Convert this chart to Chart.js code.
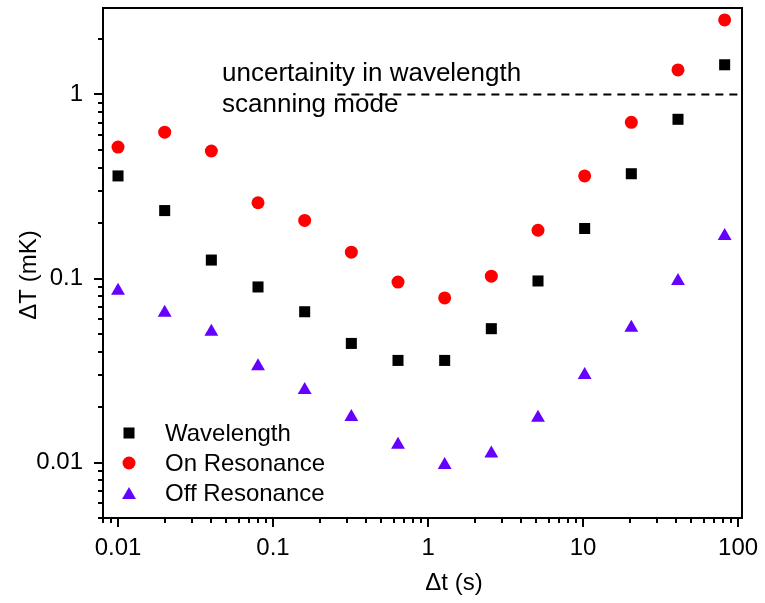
<!DOCTYPE html>
<html>
<head>
<meta charset="utf-8">
<script src="https://cdn.jsdelivr.net/npm/chart.js@4"></script>
<style>
  html, body { margin: 0; padding: 0; background: #fff; }
  #wrap { width: 765px; height: 603px; }
</style>
</head>
<body>
<div id="wrap"><canvas id="chart"></canvas></div>
<script>
// integration times (s)
const dt = [0.01, 0.02, 0.04, 0.08, 0.16, 0.32, 0.64, 1.28, 2.56, 5.12, 10.24, 20.48, 40.96, 81.92];

// Allan deviation, mK
const wavelength = [0.361, 0.234, 0.126, 0.090, 0.066, 0.0444, 0.0359, 0.0359, 0.0534, 0.097, 0.187, 0.371, 0.733, 1.45];
const onResonance = [0.518, 0.624, 0.493, 0.258, 0.207, 0.139, 0.0957, 0.0785, 0.103, 0.183, 0.361, 0.706, 1.36, 2.54];
const offResonance = [0.0858, 0.0652, 0.0514, 0.0334, 0.0248, 0.0177, 0.0125, 0.0097, 0.0112, 0.0175, 0.0299, 0.0541, 0.0969, 0.170];

// dashed limit line
const limitX = [0.26, 106];
const limitY = [1, 1];

const xTicks = [0.01, 0.1, 1, 10, 100];
const xTickLabels = ["0.01", "0.1", "1", "10", "100"];
const yTicks = [0.01, 0.1, 1];
const yTickLabels = ["0.01", "0.1", "1"];

const seriesNames = ["Wavelength", "On Resonance", "Off Resonance"];
const FONT = "'Liberation Sans', Arial, sans-serif";

function pts(xs, ys) {
  return xs.map((x, i) => ({ x: x, y: ys[i] }));
}

// minor + major tick marks, frame, titles, note text, legend
const decor = {
  id: "decor",
  afterDraw(chart) {
    const ctx = chart.ctx;
    const a = chart.chartArea;
    const xs = chart.scales.x, ys = chart.scales.y;
    ctx.save();
    ctx.strokeStyle = "#000";
    ctx.lineWidth = 2;

    // x ticks
    for (let e = -3; e <= 2; e++) {
      for (let m = 1; m <= 9; m++) {
        const v = m * Math.pow(10, e);
        if (v < xs.min || v > xs.max) continue;
        const px = Math.round(xs.getPixelForValue(v));
        const len = m === 1 ? 9 : 5;
        ctx.beginPath();
        ctx.moveTo(px, a.bottom);
        ctx.lineTo(px, a.bottom + len);
        ctx.stroke();
      }
    }
    // y ticks
    for (let e = -3; e <= 1; e++) {
      for (let m = 1; m <= 9; m++) {
        const v = m * Math.pow(10, e);
        if (v < ys.min || v > ys.max) continue;
        const py = Math.round(ys.getPixelForValue(v));
        const len = m === 1 ? 9 : 5;
        ctx.beginPath();
        ctx.moveTo(a.left, py);
        ctx.lineTo(a.left - len, py);
        ctx.stroke();
      }
    }

    // frame
    ctx.strokeRect(a.left, a.top, a.right - a.left, a.bottom - a.top);

    // axis titles
    ctx.fillStyle = "#000";
    ctx.font = "24px " + FONT;
    ctx.textAlign = "center";
    ctx.textBaseline = "middle";
    ctx.fillText("\u0394t (s)", 454, 583);
    ctx.save();
    ctx.translate(29, 275);
    ctx.rotate(-Math.PI / 2);
    ctx.fillText("\u0394T (mK)", 0, 0);
    ctx.restore();

    // note near dashed line
    ctx.font = "26px " + FONT;
    ctx.textAlign = "left";
    ctx.textBaseline = "alphabetic";
    ctx.fillText("uncertainity in wavelength", 222, 81);
    ctx.fillText("scanning mode", 222, 112);

    // legend
    ctx.font = "24px " + FONT;
    ctx.textBaseline = "middle";
    const rows = [433, 463, 493];
    chart.data.datasets.slice(0, 3).forEach((ds, i) => {
      ctx.fillStyle = ds.backgroundColor;
      Chart.helpers.drawPoint(ctx, {
        pointStyle: ds.pointStyle,
        radius: ds.pointRadius,
        rotation: 0,
        borderWidth: 0
      }, 129, rows[i] + (ds.pointStyle === "triangle" ? 2 : 0));
      ctx.fillStyle = "#000";
      ctx.fillText(seriesNames[i], 165, rows[i] + 1);
    });
    ctx.restore();
  }
};

new Chart(document.getElementById("chart"), {
  type: "scatter",
  data: {
    datasets: [
      {
        label: seriesNames[0],
        data: pts(dt, wavelength),
        pointStyle: "rect",
        pointRadius: 7.8,
        pointHoverRadius: 7.8,
        backgroundColor: "#000000",
        borderWidth: 0
      },
      {
        label: seriesNames[1],
        data: pts(dt, onResonance),
        pointStyle: "circle",
        pointRadius: 6.5,
        pointHoverRadius: 6.5,
        backgroundColor: "#ff0000",
        borderWidth: 0
      },
      {
        label: seriesNames[2],
        data: pts(dt, offResonance),
        pointStyle: "triangle",
        pointRadius: 8,
        pointHoverRadius: 8,
        backgroundColor: "#6600ff",
        borderWidth: 0
      },
      {
        type: "line",
        label: "limit",
        data: pts(limitX, limitY),
        borderColor: "#000",
        borderWidth: 2,
        borderDash: [8, 6],
        pointRadius: 0,
        showLine: true,
        fill: false
      }
    ]
  },
  options: {
    responsive: true,
    maintainAspectRatio: false,
    animation: false,
    events: [],
    layout: { padding: { top: 5, right: 23, left: 0, bottom: 0 } },
    plugins: {
      legend: { display: false },
      tooltip: { enabled: false }
    },
    scales: {
      x: {
        type: "logarithmic",
        min: 0.008,
        max: 106,
        grid: { display: false, drawTicks: false },
        border: { display: false },
        afterBuildTicks: s => { s.ticks = xTicks.map(v => ({ value: v })); },
        afterFit: s => { s.height = 85; s.paddingLeft = 0; s.paddingRight = 0; },
        ticks: {
          autoSkip: false,
          maxRotation: 0,
          padding: 16,
          color: "#000",
          font: { family: FONT, size: 24 },
          callback: (v) => xTickLabels[xTicks.indexOf(v)]
        }
      },
      y: {
        type: "logarithmic",
        min: 0.005,
        max: 2.95,
        grid: { display: false, drawTicks: false },
        border: { display: false },
        afterBuildTicks: s => { s.ticks = yTicks.map(v => ({ value: v })); },
        afterFit: s => { s.width = 103; s.paddingTop = 0; s.paddingBottom = 0; },
        ticks: {
          autoSkip: false,
          padding: 20,
          color: "#000",
          font: { family: FONT, size: 24 },
          callback: (v) => yTickLabels[yTicks.indexOf(v)]
        }
      }
    }
  },
  plugins: [decor]
});
</script>
</body>
</html>
